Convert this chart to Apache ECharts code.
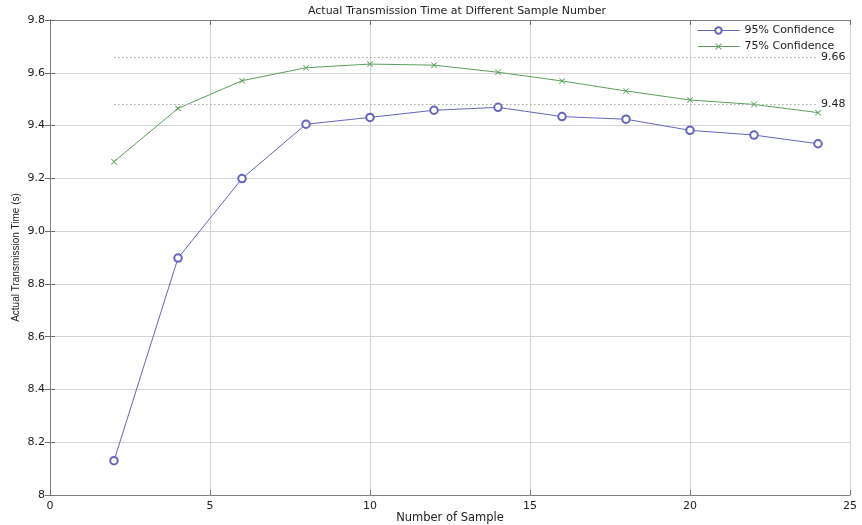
<!DOCTYPE html>
<html>
<head>
<meta charset="utf-8">
<script src="https://cdn.jsdelivr.net/npm/echarts@6/dist/echarts.min.js"></script>
<style>html,body{margin:0;padding:0;background:#fff}#c{width:862px;height:525px}</style>
</head>
<body>
<div id="c"></div>
<script>
const sampleNumbers = [2, 4, 6, 8, 10, 12, 14, 16, 18, 20, 22, 24];
const conf95 = [8.13, 8.898, 9.199, 9.405, 9.431, 9.458, 9.469, 9.434, 9.424, 9.382, 9.364, 9.331];
const conf75 = [9.263, 9.465, 9.570, 9.619, 9.633, 9.629, 9.602, 9.569, 9.531, 9.497, 9.480, 9.449];
const refValues = [9.66, 9.48];
const refStart = 2, refEnd = 24;
const yTickLabels = ['8', '8.2', '8.4', '8.6', '8.8', '9.0', '9.2', '9.4', '9.6', '9.8'];
const xTickLabels = ['0', '5', '10', '15', '20', '25'];
const seriesNames = ['95% Confidence', '75% Confidence'];
const titleText = 'Actual Transmission Time at Different Sample Number';
const xName = 'Number of Sample';
const yName = 'Actual Transmission Time (s)';

const FONT = 'DejaVu Sans';
const blue = '#6565bb', green = '#5c9e5c';
const crossPath = 'path://M0,1 L1,0 L5,4 L9,0 L10,1 L6,5 L10,9 L9,10 L5,6 L1,10 L0,9 L4,5 Z';

const chart = echarts.init(document.getElementById('c'), null, {renderer: 'canvas'});
const axisLineStyle = {show: true, lineStyle: {color: '#808080', width: 1}};
const tickStyle = {show: true, inside: true, length: 5, lineStyle: {color: '#707070'}};
chart.setOption({
  animation: false,
  backgroundColor: '#fff',
  title: {
    text: titleText, left: 452, top: 1, textAlign: 'center',
    textStyle: {fontFamily: FONT, fontSize: 11, fontWeight: 'normal', color: '#222'}
  },
  legend: {
    data: seriesNames, orient: 'vertical', left: 693, top: 22,
    padding: [3, 4, 3, 4], itemWidth: 42, itemHeight: 8, itemGap: 5,
    backgroundColor: '#fff',
    lineStyle: {width: 1},
    itemStyle: {borderWidth: 1},
    textStyle: {fontFamily: FONT, fontSize: 11, color: '#222'}
  },
  grid: {left: 50, right: 12, top: 20, bottom: 30, containLabel: false, outerBoundsMode: 'none'},
  xAxis: [{
    type: 'value', min: 0, max: 25, interval: 5, position: 'bottom',
    name: xName, nameLocation: 'middle', nameGap: 17, nameMoveOverlap: false,
    nameTextStyle: {fontFamily: FONT, fontSize: 11.5, color: '#222'},
    axisLine: axisLineStyle, axisTick: tickStyle,
    axisLabel: {fontFamily: FONT, fontSize: 11, color: '#222', margin: 6,
      formatter: v => xTickLabels[Math.round(v / 5)]},
    splitLine: {show: true, lineStyle: {color: '#d4d4d4', width: 1}}
  }, {
    type: 'value', min: 0, max: 25, interval: 5, position: 'top',
    axisLine: axisLineStyle, axisTick: tickStyle,
    axisLabel: {show: false}, splitLine: {show: false}
  }],
  yAxis: [{
    type: 'value', min: 8, max: 9.8, interval: 0.2, position: 'left',
    name: yName, nameLocation: 'middle', nameGap: 29, nameMoveOverlap: false,
    nameTextStyle: {fontFamily: 'Liberation Sans', fontSize: 10, color: '#222'},
    axisLine: axisLineStyle, axisTick: tickStyle,
    axisLabel: {fontFamily: FONT, fontSize: 11, color: '#222', margin: 5,
      formatter: v => yTickLabels[Math.round((v - 8) / 0.2)]},
    splitLine: {show: true, lineStyle: {color: '#d4d4d4', width: 1}}
  }, {
    type: 'value', min: 8, max: 9.8, interval: 0.2, position: 'right',
    axisLine: axisLineStyle, axisTick: tickStyle,
    axisLabel: {show: false}, splitLine: {show: false}
  }],
  series: [{
    name: seriesNames[0], type: 'line', xAxisIndex: 0, yAxisIndex: 0,
    data: sampleNumbers.map((x, i) => [x, conf95[i]]),
    symbol: 'emptyCircle', symbolSize: 7.5, showAllSymbol: true,
    lineStyle: {color: blue, width: 1},
    itemStyle: {color: blue, borderColor: blue, borderWidth: 0.8},
    emphasis: {disabled: true},
    z: 3
  }, {
    name: seriesNames[1], type: 'line', xAxisIndex: 0, yAxisIndex: 0,
    data: sampleNumbers.map((x, i) => [x, conf75[i]]),
    symbol: crossPath, symbolSize: 6, showAllSymbol: true,
    lineStyle: {color: green, width: 1},
    itemStyle: {color: green},
    emphasis: {disabled: true},
    z: 3,
    markLine: {
      silent: true, symbol: ['none', 'none'],
      lineStyle: {color: '#a8a8a8', width: 1, type: [1.5, 2.5]},
      label: {show: true, position: 'end', distance: 3, fontFamily: FONT, fontSize: 11, color: '#222',
        formatter: p => p.name},
      emphasis: {disabled: true},
      data: refValues.map(v => [
        {coord: [refStart, v], name: v.toFixed(2), value: v},
        {coord: [refEnd, v], name: v.toFixed(2), value: v}
      ])
    }
  }]
});
</script>
</body>
</html>
